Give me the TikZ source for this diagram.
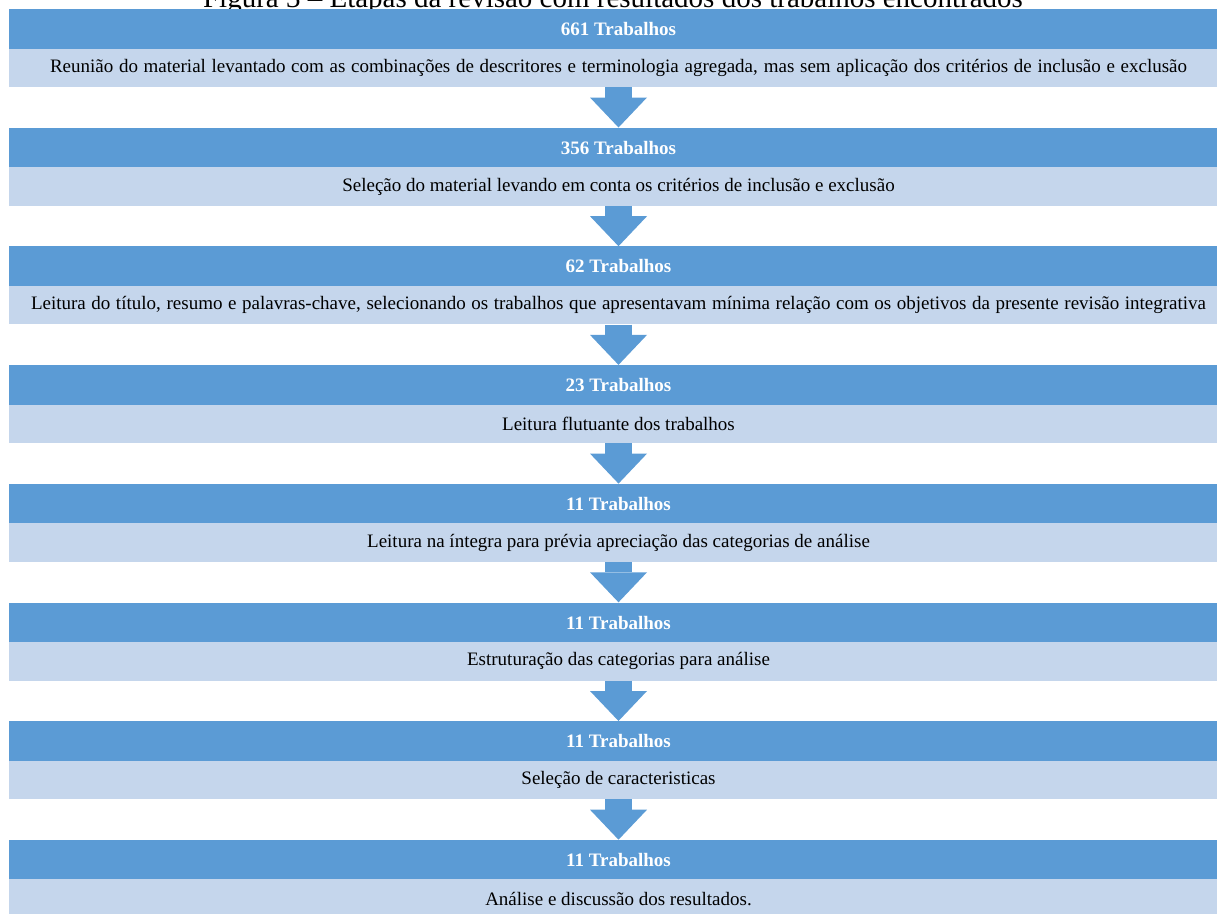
\documentclass[tikz,border=0pt]{standalone}
\usepackage{fontspec}
\setmainfont{Liberation Serif}
\usepackage{tikz}
\usetikzlibrary{arrows.meta, positioning}
\definecolor{countblue}{RGB}{91,155,213}
\definecolor{descblue}{RGB}{197,214,236}

\begin{document}
\begin{tikzpicture}[
    x=1pt, y=-1pt,
    countbar/.style={fill=countblue, minimum width=1219pt, minimum height=40pt, inner sep=0pt, text=white, font=\fontsize{19}{22}\selectfont\bfseries},
    descbar/.style={fill=descblue, minimum width=1219pt, minimum height=38.5pt, inner sep=0pt, font=\fontsize{19}{22}\selectfont},
    flowarrow/.style={draw=countblue, line width=27pt, -{Triangle[width=57pt, length=30pt, line width=0pt]}}
]
    \useasboundingbox (0,0) rectangle (1217,913);

    % Caption (cut at the top)
    \node[anchor=base, inner sep=0pt, font=\fontsize{29}{32}\selectfont] (cap) at (613,7) {Figura 3 -- Etapas da revisão com resultados dos trabalhos encontrados};

    % Steps
    \node[countbar] (c1) at (618.5,29) {661 Trabalhos};
    \node[descbar] (d1) at (618.5,67.75) {\makebox[1137pt][s]{Reunião do material levantado com as combinações de descritores e terminologia agregada, mas sem aplicação dos critérios de inclusão e exclusão}};
    \node[countbar] (c2) at (618.5,147.7) {356 Trabalhos};
    \node[descbar] (d2) at (618.5,186.45) {Seleção do material levando em conta os critérios de inclusão e exclusão};
    \node[countbar] (c3) at (618.5,266.4) {62 Trabalhos};
    \node[descbar] (d3) at (618.5,305.15) {\makebox[1175pt][s]{Leitura do título, resumo e palavras-chave, selecionando os trabalhos que apresentavam mínima relação com os objetivos da presente revisão integrativa}};
    \node[countbar] (c4) at (618.5,385.1) {23 Trabalhos};
    \node[descbar] (d4) at (618.5,423.85) {Leitura flutuante dos trabalhos};
    \node[countbar] (c5) at (618.5,503.8) {11 Trabalhos};
    \node[descbar] (d5) at (618.5,542.55) {Leitura na íntegra para prévia apreciação das categorias de análise};
    \node[countbar] (c6) at (618.5,622.5) {11 Trabalhos};
    \node[descbar] (d6) at (618.5,661.25) {Estruturação das categorias para análise};
    \node[countbar] (c7) at (618.5,741.2) {11 Trabalhos};
    \node[descbar] (d7) at (618.5,779.95) {Seleção de caracteristicas};
    \node[countbar] (c8) at (618.5,859.9) {11 Trabalhos};
    \node[descbar] (d8) at (618.5,898.65) {Análise e discussão dos resultados.};

    % Arrows
    \draw[flowarrow] (d1) -- (c2);
    \draw[flowarrow] (d2) -- (c3);
    \draw[flowarrow] (d3) -- (c4);
    \draw[flowarrow] (d4) -- (c5);
    \draw[flowarrow] (d5) -- (c6);
    \draw[flowarrow] (d6) -- (c7);
    \draw[flowarrow] (d7) -- (c8);
\end{tikzpicture}
\end{document}
